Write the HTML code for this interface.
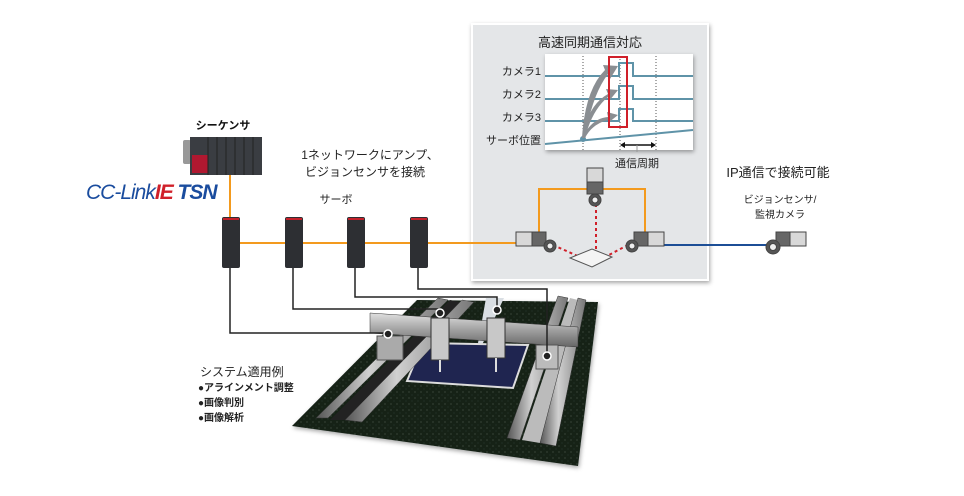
<!DOCTYPE html>
<html><head><meta charset="utf-8"><style>
body{margin:0;background:#fff}
svg{display:block;font-family:"Liberation Sans","Noto Sans CJK JP",sans-serif}
</style></head><body>
<svg width="964" height="496" viewBox="0 0 964 496">
<defs>
<filter id="sh" x="-10%" y="-10%" width="120%" height="120%"><feDropShadow dx="1" dy="2" stdDeviation="2" flood-color="#000" flood-opacity=".35"/></filter>
<linearGradient id="rail" x1="0" x2="1" y1="0" y2="0"><stop offset="0" stop-color="#555"/><stop offset=".4" stop-color="#d0d0d0"/><stop offset="1" stop-color="#777"/></linearGradient>
<linearGradient id="beam" x1="0" x2="0" y1="0" y2="1"><stop offset="0" stop-color="#e0e0e0"/><stop offset=".5" stop-color="#a0a0a0"/><stop offset="1" stop-color="#666"/></linearGradient>
<pattern id="spk" width="6" height="6" patternUnits="userSpaceOnUse"><rect width="6" height="6" fill="#142118"/><circle cx="1" cy="2" r=".5" fill="#6a7a6e"/><circle cx="4" cy="5" r=".4" fill="#4a5a4e"/></pattern>
</defs>

<!-- gray panel -->
<rect x="472" y="24" width="236" height="256" fill="#e4e6e8" stroke="#fff" stroke-width="2" filter="url(#sh)"/>
<text x="590" y="47" font-size="13" text-anchor="middle" fill="#222">高速同期通信対応</text>
<rect x="545" y="54" width="148" height="96" fill="#fff" filter="url(#sh)"/>
<g stroke="#555" stroke-width="1" stroke-dasharray="1,2"><line x1="583" y1="56" x2="583" y2="150"/><line x1="620" y1="56" x2="620" y2="150"/><line x1="656" y1="56" x2="656" y2="150"/></g>
<g fill="none" stroke="#5f93a8" stroke-width="2">
<polyline points="545,76 619,76 619,63 633,63 633,76 693,76"/>
<polyline points="545,99 619,99 619,86 633,86 633,99 693,99"/>
<polyline points="545,121 619,121 619,109 633,109 633,121 693,121"/>
<line x1="545" y1="144" x2="693" y2="130"/>
</g>
<circle cx="583" cy="139" r="3" fill="#5f93a8"/>
<g fill="#8a8e92">
<path d="M582,138 Q585,90 605,70 L603,65 L618,66 L610,79 L608,74 Q592,95 585,138Z"/>
<path d="M582,138 Q588,105 608,94 L606,89 L618,90 L609,101 L608,97 Q592,110 585,138Z"/>
<path d="M582,138 Q592,118 608,117 L607,112 L618,115 L608,123 L608,120 Q592,124 585,138Z"/>
</g>
<rect x="609" y="57" width="18" height="70" fill="none" stroke="#d0202a" stroke-width="2"/>
<g font-size="11" fill="#222" text-anchor="end"><text x="541" y="75">カメラ1</text><text x="541" y="98">カメラ2</text><text x="541" y="121">カメラ3</text><text x="541" y="144">サーボ位置</text></g>
<line x1="622" y1="145" x2="654" y2="145" stroke="#111" stroke-width="1.5"/>
<path d="M620,145 l5,-3 v6z M656,145 l-5,-3 v6z" fill="#111"/>
<line x1="637" y1="145" x2="637" y2="152" stroke="#999"/>
<text x="637" y="167" font-size="11" text-anchor="middle" fill="#222">通信周期</text>

<!-- orange network -->
<g stroke="#f39a1e" stroke-width="2" fill="none">
<line x1="230" y1="175" x2="230" y2="220"/>
<line x1="230" y1="243" x2="518" y2="243"/>
<polyline points="539,232 539,189 645,189 645,232"/>
</g>
<line x1="660" y1="245" x2="775" y2="245" stroke="#1c4e96" stroke-width="2"/>
<g stroke="#d0202a" stroke-width="2" stroke-dasharray="3,3"><line x1="596" y1="198" x2="596" y2="252"/><line x1="553" y1="245" x2="580" y2="257"/><line x1="628" y1="245" x2="605" y2="257"/></g>
<path d="M570,258 L592,249 L612,257 L592,267Z" fill="#f4f4f4" stroke="#555"/>
<!-- cameras -->
<g stroke="#444" stroke-width="1">
<rect x="516" y="232" width="26" height="14" fill="#d8d8d8"/><rect x="532" y="232" width="14" height="14" fill="#666"/><circle cx="550" cy="246" r="6" fill="#555"/><circle cx="550" cy="246" r="3" fill="#eee"/>
<rect x="587" y="168" width="16" height="26" fill="#d8d8d8"/><rect x="587" y="182" width="16" height="12" fill="#666"/><circle cx="595" cy="200" r="6" fill="#555"/><circle cx="595" cy="200" r="3" fill="#eee"/>
<rect x="638" y="232" width="26" height="14" fill="#d8d8d8"/><rect x="634" y="232" width="14" height="14" fill="#666"/><circle cx="632" cy="246" r="6" fill="#555"/><circle cx="632" cy="246" r="3" fill="#eee"/>
<rect x="780" y="232" width="26" height="14" fill="#d8d8d8"/><rect x="776" y="232" width="14" height="14" fill="#666"/><circle cx="773" cy="247" r="7" fill="#555"/><circle cx="773" cy="247" r="3.5" fill="#eee"/>
</g>
<text x="778" y="177" font-size="13" text-anchor="middle" fill="#222">IP通信で接続可能</text>
<text x="780" y="203" font-size="10" text-anchor="middle" fill="#222">ビジョンセンサ/</text>
<text x="780" y="218" font-size="10" text-anchor="middle" fill="#222">監視カメラ</text>

<!-- board -->
<polygon points="417,300 598,302 578,466 292,426" fill="url(#spk)" filter="url(#sh)"/>
<polygon points="486,298 504,298 475,360" fill="#d9dee3"/>
<polygon points="423,343 528,345 513,388 407,381" fill="#1f2550" stroke="#ddd" stroke-width="2"/>
<!-- left rails -->
<polygon points="316,418 328,418 448,300 438,298" fill="url(#rail)" stroke="#333" stroke-width=".5"/>
<polygon points="330,420 345,420 460,302 450,300" fill="#222"/>
<polygon points="345,420 362,422 474,302 462,300" fill="url(#rail)" stroke="#333" stroke-width=".5"/>
<!-- right rails -->
<polygon points="507,438 520,440 568,298 558,296" fill="url(#rail)" stroke="#333" stroke-width=".5"/>
<polygon points="522,440 540,443 578,300 570,298" fill="#bbb"/>
<polygon points="540,443 556,446 586,300 578,298" fill="url(#rail)" stroke="#333" stroke-width=".5"/>
<!-- gantry beam -->
<polygon points="370,313 578,327 578,347 370,333" fill="url(#beam)" stroke="#333" stroke-width=".5"/>
<rect x="377" y="336" width="26" height="24" fill="#aaa" stroke="#555"/>
<rect x="536" y="345" width="22" height="24" fill="#bbb" stroke="#555"/>
<rect x="431" y="318" width="18" height="42" fill="#c8c8c8" stroke="#333"/>
<rect x="487" y="318" width="18" height="40" fill="#c8c8c8" stroke="#333"/>
<line x1="440" y1="360" x2="440" y2="372" stroke="#ddd" stroke-width="2"/>
<line x1="496" y1="358" x2="496" y2="372" stroke="#ddd" stroke-width="2"/>
<!-- black wiring -->
<g stroke="#222" stroke-width="1.5" fill="none">
<polyline points="230,268 230,333 388,333"/>
<polyline points="293,268 293,309 440,309 440,313"/>
<polyline points="355,268 355,297 497,297 497,310"/>
<polyline points="418,268 418,289 547,289 547,356"/>
</g>
<g fill="#222" stroke="#fff" stroke-width="1.5"><circle cx="388" cy="334" r="4"/><circle cx="440" cy="313" r="4"/><circle cx="497" cy="310" r="4"/><circle cx="547" cy="356" r="4"/></g>

<!-- servo amps -->
<g>
<rect x="222" y="217" width="18" height="51" rx="2" fill="#2d2f33"/><rect x="223" y="218" width="16" height="2" fill="#c3202a"/>
<rect x="285" y="217" width="18" height="51" rx="2" fill="#2d2f33"/><rect x="286" y="218" width="16" height="2" fill="#c3202a"/>
<rect x="347" y="217" width="18" height="51" rx="2" fill="#2d2f33"/><rect x="348" y="218" width="16" height="2" fill="#c3202a"/>
<rect x="410" y="217" width="18" height="51" rx="2" fill="#2d2f33"/><rect x="411" y="218" width="16" height="2" fill="#c3202a"/>
</g>
<!-- sequencer -->
<rect x="183" y="140" width="8" height="24" rx="2" fill="#999"/>
<rect x="190" y="137" width="72" height="38" fill="#3a3d42"/>
<rect x="192" y="155" width="16" height="18" fill="#b01830"/>
<g stroke="#222"><line x1="208" y1="137" x2="208" y2="175"/><line x1="217" y1="137" x2="217" y2="175"/><line x1="226" y1="137" x2="226" y2="175"/><line x1="235" y1="137" x2="235" y2="175"/><line x1="244" y1="137" x2="244" y2="175"/><line x1="253" y1="137" x2="253" y2="175"/></g>
<text x="223" y="129" font-size="11" font-weight="bold" text-anchor="middle" fill="#111">シーケンサ</text>
<text x="86" y="199" font-size="21" font-style="italic" fill="#1a4c9e" letter-spacing="-1">CC-Link<tspan font-weight="bold" fill="#d0202a">IE</tspan><tspan font-weight="bold"> TSN</tspan></text>
<text x="370" y="159" font-size="12" text-anchor="middle" fill="#222">1ネットワークにアンプ、</text>
<text x="365" y="176" font-size="12" text-anchor="middle" fill="#222">ビジョンセンサを接続</text>
<text x="336" y="203" font-size="11" text-anchor="middle" fill="#222">サーボ</text>
<text x="200" y="376" font-size="12" fill="#222">システム適用例</text>
<g font-size="10" font-weight="bold" fill="#222"><text x="198" y="391">●アラインメント調整</text><text x="198" y="406">●画像判別</text><text x="198" y="421">●画像解析</text></g>
</svg>
</body></html>
